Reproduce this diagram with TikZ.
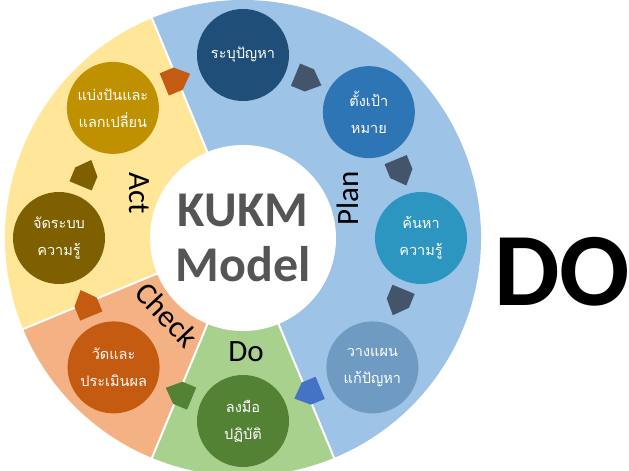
\documentclass[tikz,border=0pt]{standalone}
\usepackage{fontspec}
\setmainfont{Carlito}
\newfontfamily\thaifont[Script=Thai]{Loma}
\usetikzlibrary{calc}

% sector backgrounds
\definecolor{planbg}{RGB}{157,195,230}
\definecolor{dobg}{RGB}{169,209,142}
\definecolor{checkbg}{RGB}{244,177,131}
\definecolor{actbg}{RGB}{255,230,153}
% step circles
\definecolor{stepA}{RGB}{31,78,121}
\definecolor{stepB}{RGB}{46,117,182}
\definecolor{stepC}{RGB}{44,150,192}
\definecolor{stepD}{RGB}{111,155,195}
\definecolor{stepE}{RGB}{84,130,53}
\definecolor{stepF}{RGB}{197,90,17}
\definecolor{stepG}{RGB}{127,96,0}
\definecolor{stepH}{RGB}{191,144,0}
% arrows
\definecolor{slate}{RGB}{68,84,106}
\definecolor{royal}{RGB}{68,114,196}
\definecolor{hubtext}{RGB}{85,85,85}

\tikzset{
  stepnode/.style={circle, minimum size=92pt, inner sep=0pt, text=white,
    align=center, font=\thaifont\fontsize{14.5}{27}\selectfont},
  phaselabel/.style={font=\fontsize{31}{33}\selectfont, text=black, inner sep=0pt},
  pics/cyclearrow/.style={code={
    \fill[#1] (-14,-12) -- (1,-12) -- (14,0) -- (1,12) -- (-14,12) -- cycle;}},
  sep/.style={white, line width=2pt}
}

\begin{document}
\begin{tikzpicture}[x=1pt,y=1pt]
\useasboundingbox (0,0) rectangle (629,471);
\coordinate (C) at (243,233);

% the four PDCA sectors
\fill[planbg] (C) -- ($(C)+(112.5:238)$) arc[start angle=112.5, end angle=-67.5, radius=238] -- cycle;
\fill[dobg] (C) -- ($(C)+(-67.5:238)$) arc[start angle=-67.5, end angle=-112.5, radius=238] -- cycle;
\fill[checkbg] (C) -- ($(C)+(-112.5:238)$) arc[start angle=-112.5, end angle=-157.5, radius=238] -- cycle;
\fill[actbg] (C) -- ($(C)+(202.5:238)$) arc[start angle=202.5, end angle=112.5, radius=238] -- cycle;
\foreach \a in {112.5,-67.5,-112.5,-157.5}
  \draw[sep] ($(C)+(\a:80)$) -- ($(C)+(\a:240)$);

% hub
\node[circle, fill=white, minimum size=186pt, inner sep=0pt] (hub) at (C) {};
\node[align=center, text=hubtext, font=\bfseries\fontsize{50}{55}\selectfont] (title) at (C) {KUKM\\Model};

% phase labels
\node[phaselabel, rotate=90] (plan) at (348,273) {Plan};
\node[phaselabel] (do) at (246,119) {Do};
\node[phaselabel, rotate=-47] (check) at (167,156) {Check};
\node[phaselabel, rotate=-90] (act) at (139,278) {Act};

% steps
\node[stepnode, fill=stepA] (s1) at ($(C)+(90:183)$) {ระบุปัญหา};
\node[stepnode, fill=stepB] (s2) at ($(C)+(45:178)$) {ตั้งเป้า\\หมาย};
\node[stepnode, fill=stepC] (s3) at ($(C)+(0:178)$) {ค้นหา\\ความรู้};
\node[stepnode, fill=stepD] (s4) at ($(C)+(-45:183)$) {วางแผน\\แก้ปัญหา};
\node[stepnode, fill=stepE] (s5) at ($(C)+(-90:183)$) {ลงมือ\\ปฏิบัติ};
\node[stepnode, fill=stepF] (s6) at ($(C)+(-135:183)$) {วัดและ\\ประเมินผล};
\node[stepnode, fill=stepG] (s7) at ($(C)+(180:184)$) {จัดระบบ\\ความรู้};
\node[stepnode, fill=stepH] (s8) at ($(C)+(135:184)$) {แบ่งปันและ\\แลกเปลี่ยน};

% arrows between steps, running clockwise
\pic[rotate=-22.5] at ($(C)+(67.5:171)$) {cyclearrow=slate};
\pic[rotate=-67.5] at ($(C)+(22.5:171)$) {cyclearrow=slate};
\pic[rotate=-112.5] at ($(C)+(-22.5:168)$) {cyclearrow=slate};
\pic[rotate=-157.5] at ($(C)+(-67.5:168)$) {cyclearrow=royal};
\pic[rotate=-202.5] at ($(C)+(-112.5:168)$) {cyclearrow=stepE};
\pic[rotate=-247.5] at ($(C)+(-157.5:170)$) {cyclearrow=stepF};
\pic[rotate=67.5] at ($(C)+(157.5:170)$) {cyclearrow=stepG};
\pic[rotate=22.5] at ($(C)+(112.5:172)$) {cyclearrow=stepF};

% side caption
\node[font=\bfseries\fontsize{104}{110}\selectfont, inner sep=0pt] (bigdo) at (562,199) {DO};
\end{tikzpicture}
\end{document}
